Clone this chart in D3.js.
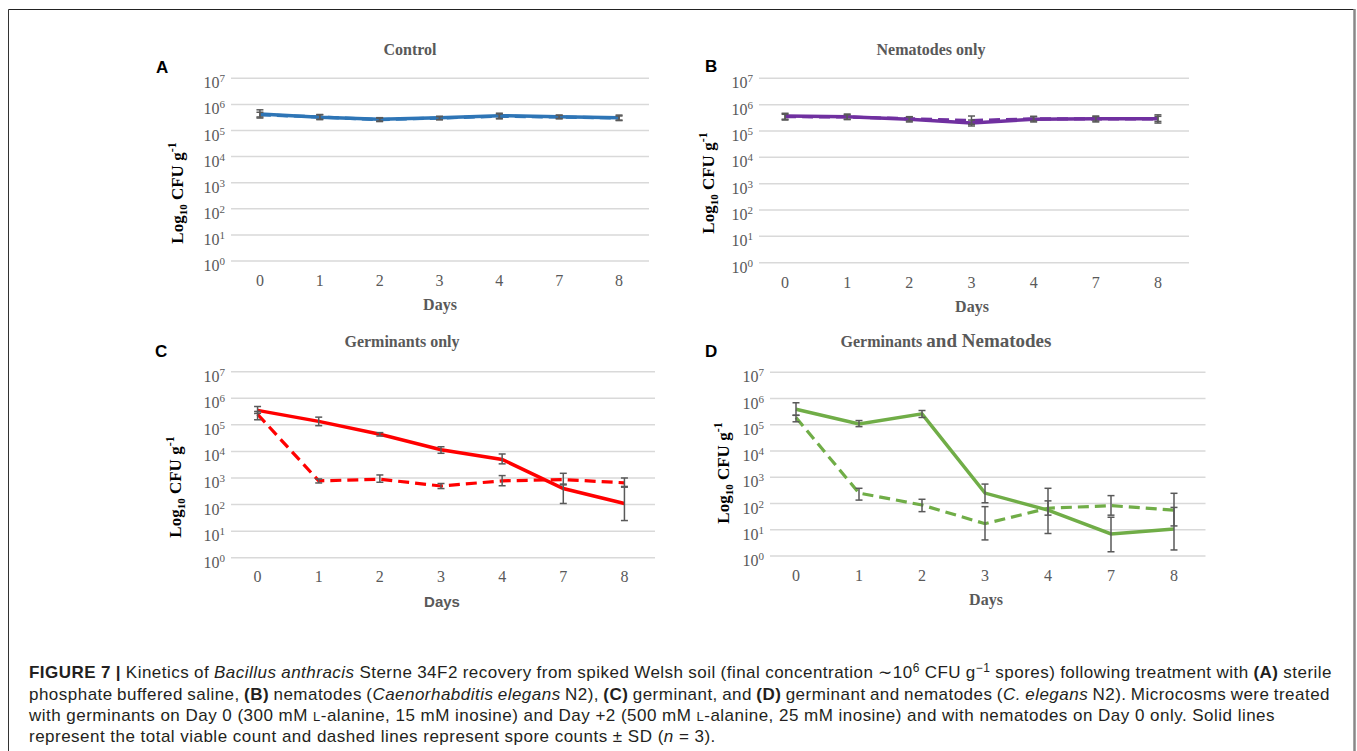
<!DOCTYPE html>
<meta charset="utf-8">
<style>
body { margin: 0; background: #fff; }
svg text { font-family: "Liberation Serif", "Times New Roman", serif; }
.sans { font-family: "Liberation Sans", Arial, sans-serif !important; }
</style>
<body>
<script src="https://d3js.org/d3.v7.min.js"></script>
<script>

const days = ["0", "1", "2", "3", "4", "7", "8"];
const yExponents = [0, 1, 2, 3, 4, 5, 6, 7];

// A: control
const controlTotal  = [4.3e5, 3.2e5, 2.7e5, 3.1e5, 3.7e5, 3.4e5, 3.1e5];
const controlSpores = [4.0e5, 3.3e5, 2.6e5, 3.0e5, 3.5e5, 3.3e5, 3.0e5];
const controlTotalErr  = [[3.0e5, 6.2e5], [2.6e5, 4.1e5], [2.3e5, 3.1e5], [2.6e5, 3.5e5], [2.8e5, 4.6e5], [2.9e5, 3.9e5], [2.4e5, 3.9e5]];
const controlSporesErr = [[3.3e5, 5.0e5], [2.7e5, 4.0e5], [2.2e5, 3.0e5], [2.6e5, 3.4e5], [2.9e5, 4.3e5], [2.8e5, 3.8e5], [2.5e5, 3.6e5]];

// B: nematodes only
const nemTotal  = [3.7e5, 3.5e5, 2.8e5, 2.0e5, 2.8e5, 2.9e5, 2.9e5];
const nemSpores = [3.5e5, 3.4e5, 2.9e5, 2.5e5, 2.9e5, 2.9e5, 2.9e5];
const nemTotalErr  = [[2.6e5, 4.7e5], [2.7e5, 4.4e5], [2.2e5, 3.5e5], [1.55e5, 2.6e5], [2.2e5, 3.6e5], [2.2e5, 3.7e5], [2.0e5, 4.1e5]];
const nemSporesErr = [[2.8e5, 4.3e5], [2.8e5, 4.1e5], [2.4e5, 3.4e5], [1.8e5, 3.7e5], [2.4e5, 3.5e5], [2.4e5, 3.5e5], [2.3e5, 3.6e5]];

// C: germinants only
const germTotal  = [3.5e5, 1.35e5, 4.4e4, 1.15e4, 5.0e3, 4.0e2, 1.1e2];
const germSpores = [2.5e5, 7.8e2, 9.0e2, 5.0e2, 7.8e2, 8.7e2, 6.6e2];
const germTotalErr  = [[2.7e5, 4.9e5], [9.3e4, 1.95e5], [3.8e4, 5.1e4], [8.5e3, 1.5e4], [3.4e3, 8.0e3], [1.1e2, 5.9e2], [2.5e1, 4.5e2]];
const germSporesErr = [[1.55e5, 3.2e5], [6.5e2, 9.2e2], [6.9e2, 1.3e3], [4.0e2, 6.2e2], [5.1e2, 1.23e3], [5.5e2, 1.5e3], [4.8e2, 1.0e3]];

// D: germinants and nematodes
const bothTotal  = [3.9e5, 1.07e5, 2.6e5, 2.5e2, 5.6e1, 6.9, 10.7];
const bothSpores = [1.9e5, 2.5e2, 8.8e1, 1.7e1, 6.6e1, 8.3e1, 5.6e1];
const bothTotalErr  = [[2.3e5, 6.9e5], [8.5e4, 1.45e5], [1.9e5, 3.5e5], [1.07e2, 5.5e2], [7.2, 3.8e2], [1.45, 3.0e1], [1.7, 7.1e1]];
const bothSporesErr = [[1.3e5, 2.3e5], [1.35e2, 3.8e2], [4.9e1, 1.45e2], [4.1, 7.6e1], [3.6e1, 1.26e2], [3.6e1, 2.0e2], [1.4e1, 2.45e2]];

var W = 1357, H = 751;
var gray = "#595959";

var svg = d3.select("body").append("svg")
    .attr("width", W)
    .attr("height", H);

// figure frame
svg.append("line").attr("x1", 8.5).attr("y1", 9.5).attr("x2", 8.5).attr("y2", H).attr("stroke", "#333").attr("stroke-width", 1);
svg.append("line").attr("x1", 8.5).attr("y1", 9.5).attr("x2", 1354).attr("y2", 9.5).attr("stroke", "#222").attr("stroke-width", 1);
svg.append("line").attr("x1", 1354.5).attr("y1", 9).attr("x2", 1354.5).attr("y2", H).attr("stroke", "#888").attr("stroke-width", 2.5);

var panels = [
  { letter: "A", lx: 156, ly: 73, title: [["Control", 16]], tx: 410, ty: 55,
    x: [230, 649], gx: 231, y: [261, 78.3], tickY: 286, daysX: 440, daysY: 310, ylX: 177, ylY: 193,
    color: "#2E75B6", total: controlTotal, spores: controlSpores, totalErr: controlTotalErr, sporesErr: controlSporesErr },
  { letter: "B", lx: 705, ly: 72, title: [["Nematodes only", 16]], tx: 931, ty: 55,
    x: [754, 1189], gx: 759, y: [262.7, 78.3], tickY: 288, daysX: 972, daysY: 312, ylX: 708, ylY: 183,
    color: "#7030A0", total: nemTotal, spores: nemSpores, totalErr: nemTotalErr, sporesErr: nemSporesErr },
  { letter: "C", lx: 155, ly: 357, title: [["Germinants only", 16]], tx: 402, ty: 347,
    x: [227, 655], gx: 231, y: [557.7, 371.7], tickY: 582, daysX: 442, daysY: 607, ylX: 175, ylY: 487, sansDays: true,
    color: "#FF0000", total: germTotal, spores: germSpores, totalErr: germTotalErr, sporesErr: germSporesErr },
  { letter: "D", lx: 705, ly: 357, title: [["Germinants ", 16], ["and Nematodes", 19]], tx: 946, ty: 347,
    x: [764.5, 1205.5], gx: 770, y: [556, 372.3], tickY: 581, daysX: 986, daysY: 605, ylX: 723, ylY: 473,
    color: "#70AD47", total: bothTotal, spores: bothSpores, totalErr: bothTotalErr, sporesErr: bothSporesErr }
];

panels.forEach(function(p) {
  var x = d3.scaleBand().domain(days).range(p.x);
  var y = d3.scaleLog().domain([1, 1e7]).range(p.y);
  var cx = function(i) { return x(days[i]) + x.bandwidth() / 2; };

  var g = svg.append("g");

  // gridlines
  g.selectAll(".grid")
    .data(yExponents)
    .enter().append("line")
      .attr("x1", p.gx).attr("x2", p.x[1])
      .attr("y1", function(e) { return y(Math.pow(10, e)); })
      .attr("y2", function(e) { return y(Math.pow(10, e)); })
      .attr("stroke", "#d9d9d9")
      .attr("stroke-width", 1.5);

  // y tick labels 10^n
  var yl = g.selectAll(".ylab")
    .data(yExponents)
    .enter().append("text")
      .attr("x", p.gx - 6)
      .attr("y", function(e) { return y(Math.pow(10, e)) + 10; })
      .attr("text-anchor", "end")
      .attr("fill", gray)
      .attr("font-size", "16px");
  yl.append("tspan").text("10");
  yl.append("tspan").attr("font-size", "11px").attr("baseline-shift", "6px").text(function(e) { return e; });

  // x tick labels
  g.selectAll(".xlab")
    .data(days)
    .enter().append("text")
      .attr("x", function(d) { return x(d) + x.bandwidth() / 2; })
      .attr("y", p.tickY)
      .attr("text-anchor", "middle")
      .attr("fill", gray)
      .attr("font-size", "16px")
      .text(function(d) { return d; });

  // axis titles
  g.append("text")
    .attr("class", p.sansDays ? "sans" : null)
    .attr("x", p.daysX).attr("y", p.daysY)
    .attr("text-anchor", "middle")
    .attr("fill", gray)
    .attr("font-weight", "bold")
    .attr("font-size", p.sansDays ? "15px" : "16px")
    .text("Days");

  var yt = g.append("text")
    .attr("transform", "translate(" + p.ylX + "," + p.ylY + ") rotate(-90)")
    .attr("text-anchor", "middle")
    .attr("dy", "0.35em")
    .attr("fill", "#000")
    .attr("font-weight", "bold")
    .attr("font-size", "17px");
  yt.append("tspan").text("Log");
  yt.append("tspan").attr("font-size", "11px").attr("baseline-shift", "-4px").text("10");
  yt.append("tspan").text(" CFU g");
  yt.append("tspan").attr("font-size", "12px").attr("baseline-shift", "7px").text("-1");

  // panel title
  var tt = g.append("text")
    .attr("x", p.tx).attr("y", p.ty)
    .attr("text-anchor", "middle")
    .attr("fill", gray)
    .attr("font-weight", "bold");
  p.title.forEach(function(t) { tt.append("tspan").attr("font-size", t[1] + "px").text(t[0]); });

  // panel letter
  g.append("text")
    .attr("class", "sans")
    .attr("x", p.lx).attr("y", p.ly)
    .attr("font-weight", "bold")
    .attr("font-size", "17px")
    .attr("fill", "#000")
    .text(p.letter);

  var line = d3.line()
    .x(function(d, i) { return cx(i); })
    .y(function(d) { return y(d); });

  g.append("path")
    .datum(p.spores)
    .attr("d", line)
    .attr("fill", "none")
    .attr("stroke", p.color)
    .attr("stroke-width", 3.2)
    .attr("stroke-dasharray", "11,6");

  g.append("path")
    .datum(p.total)
    .attr("d", line)
    .attr("fill", "none")
    .attr("stroke", p.color)
    .attr("stroke-width", 3.5);

  // error bars
  [p.sporesErr, p.totalErr].forEach(function(errs) {
    var eb = g.selectAll(null)
      .data(errs)
      .enter().append("g")
        .attr("stroke", gray)
        .attr("stroke-width", 1.5);
    eb.append("line")
      .attr("x1", function(d, i) { return cx(i); })
      .attr("x2", function(d, i) { return cx(i); })
      .attr("y1", function(d) { return y(d[0]); })
      .attr("y2", function(d) { return y(d[1]); });
    eb.append("line")
      .attr("x1", function(d, i) { return cx(i) - 3.5; })
      .attr("x2", function(d, i) { return cx(i) + 3.5; })
      .attr("y1", function(d) { return y(d[0]); })
      .attr("y2", function(d) { return y(d[0]); });
    eb.append("line")
      .attr("x1", function(d, i) { return cx(i) - 3.5; })
      .attr("x2", function(d, i) { return cx(i) + 3.5; })
      .attr("y1", function(d) { return y(d[1]); })
      .attr("y2", function(d) { return y(d[1]); });
  });
});

// caption
var captionLines = [
  { y: 678, width: 1303, parts: [["FIGURE 7 | ", "b"], ["Kinetics of ", ""], ["Bacillus anthracis", "i"], [" Sterne 34F2 recovery from spiked Welsh soil (final concentration \u223C10", ""], ["6", "sup"], [" CFU g", ""], ["\u22121", "sup"], [" spores) following treatment with ", ""], ["(A)", "b"], [" sterile", ""]] },
  { y: 700, width: 1301, parts: [["phosphate buffered saline, ", ""], ["(B)", "b"], [" nematodes (", ""], ["Caenorhabditis elegans", "i"], [" N2), ", ""], ["(C)", "b"], [" germinant, and ", ""], ["(D)", "b"], [" germinant and nematodes (", ""], ["C. elegans", "i"], [" N2). Microcosms were treated", ""]] },
  { y: 721, width: 1246, parts: [["with germinants on Day 0 (300 mM ", ""], ["L", "sc"], ["-alanine, 15 mM inosine) and Day +2 (500 mM ", ""], ["L", "sc"], ["-alanine, 25 mM inosine) and with nematodes on Day 0 only. Solid lines", ""]] },
  { y: 742, width: null, parts: [["represent the total viable count and dashed lines represent spore counts \u00B1 SD (", ""], ["n", "i"], [" = 3).", ""]] }
];

var cap = svg.append("g").attr("class", "caption");
var capNodes = captionLines.map(function(l) {
  var t = cap.append("text")
    .attr("class", "sans")
    .attr("x", 29).attr("y", l.y)
    .attr("fill", "#231f20")
    .attr("font-size", "17px");
  l.parts.forEach(function(pt) {
    var s = t.append("tspan").text(pt[0]);
    if (pt[1] === "b") s.attr("font-weight", "bold");
    if (pt[1] === "i") s.attr("font-style", "italic");
    if (pt[1] === "sup") s.attr("font-size", "12px").attr("baseline-shift", "6px");
    if (pt[1] === "sc") s.attr("font-size", "13px");
  });
  return t;
});

// the reference face is a little wider than Liberation Sans: spread letters to fit line 3
var t3 = capNodes[2];
var txt3 = captionLines[2].parts.map(function(pt) { return pt[0]; }).join("");
var ls = (captionLines[2].width - t3.node().getComputedTextLength()) / txt3.length;
capNodes.forEach(function(t) { t.attr("letter-spacing", ls + "px"); });

// justify first two lines
[0, 1].forEach(function(k) {
  var t = capNodes[k], l = captionLines[k];
  var w = t.node().getComputedTextLength();
  var spaces = l.parts.map(function(pt) { return pt[0]; }).join("").split(" ").length - 1;
  t.attr("word-spacing", ((l.width - w) / spaces) + "px");
});

</script>
